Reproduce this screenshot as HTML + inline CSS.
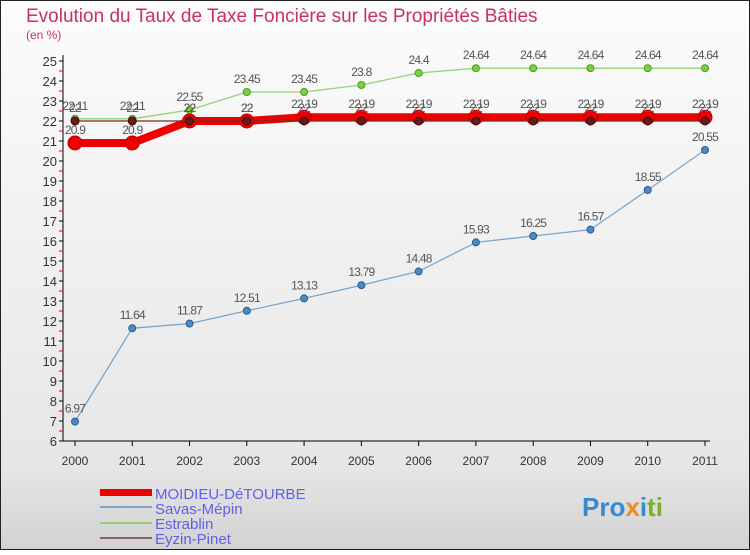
<!DOCTYPE html>
<html><head><meta charset="utf-8"><style>
body{margin:0;width:750px;height:550px;overflow:hidden;font-family:"Liberation Sans",sans-serif}
</style></head><body>
<svg width="750" height="550" xmlns="http://www.w3.org/2000/svg" id="chart">
<defs><linearGradient id="bg" x1="0" y1="0" x2="0" y2="1"><stop offset="0" stop-color="#fcfcfc"/><stop offset="0.85" stop-color="#e6e6e6"/><stop offset="1" stop-color="#d2d2d2"/></linearGradient></defs>
<rect x="0.5" y="0.5" width="749" height="549" fill="url(#bg)" stroke="#222"/>
<text x="26" y="22" font-size="19" fill="#c8325e">Evolution du Taux de Taxe Foncière sur les Propriétés Bâties</text>
<text x="26" y="39" font-size="12" fill="#c8325e">(en %)</text>
<g id="axes"></g><g id="series"></g>
<g font-size="15" fill="#6060e8">
<rect x="100" y="489" width="52" height="7" fill="#e00"/>
<text x="155" y="499">MOIDIEU-DéTOURBE</text>
<rect x="100" y="506" width="52" height="2" fill="#7aa6cc"/>
<text x="155" y="514">Savas-Mépin</text>
<rect x="100" y="522" width="52" height="2" fill="#99d077"/>
<text x="155" y="529">Estrablin</text>
<rect x="100" y="537" width="52" height="2" fill="#8a6262"/>
<text x="155" y="544">Eyzin-Pinet</text>
</g>
<text x="582" y="516" font-size="26" font-weight="bold"><tspan fill="#3a8ad0">Pro</tspan><tspan fill="#f08a20">x</tspan><tspan fill="#3a8ad0">i</tspan><tspan fill="#7ab030">ti</tspan></text>
</svg>
<script>
const years=[2000,2001,2002,2003,2004,2005,2006,2007,2008,2009,2010,2011];
const yTicks=[6,7,8,9,10,11,12,13,14,15,16,17,18,19,20,21,22,23,24,25];
const moidieu=[20.9,20.9,22,22,22.19,22.19,22.19,22.19,22.19,22.19,22.19,22.19];
const savas=[6.97,11.64,11.87,12.51,13.13,13.79,14.48,15.93,16.25,16.57,18.55,20.55];
const estrablin=[22.11,22.11,22.55,23.45,23.45,23.8,24.4,24.64,24.64,24.64,24.64,24.64];
const eyzin=[22,22,22,22,22,22,22,22,22,22,22,22];
const NS="http://www.w3.org/2000/svg";
const x=i=>75+i*(630/11);
const y=v=>61+(25-v)*20;
function mk(t,a,p){const e=document.createElementNS(NS,t);for(const k in a)e.setAttribute(k,a[k]);p.appendChild(e);return e;}
const ax=document.getElementById('axes'),sg=document.getElementById('series');
const yl=mk('line',{x1:63,y1:55,x2:63,y2:441,stroke:'#000'},ax);


const xl=mk('line',{x1:63,y1:441,x2:710,y2:441,stroke:'#000'},ax);


yTicks.forEach(v=>{
 mk('line',{x1:59,y1:y(v),x2:63,y2:y(v),stroke:'#000'},ax);
 if(v<25)mk('line',{x1:59,y1:y(v+0.5),x2:63,y2:y(v+0.5),stroke:'#e00'},ax);
 const t=mk('text',{x:57,y:y(v)+5,'text-anchor':'end','font-size':13,fill:'#333'},ax);t.textContent=v;
 
 
});
years.forEach((yr,i)=>{
 mk('line',{x1:x(i),y1:441,x2:x(i),y2:446,stroke:'#000'},ax);
 const t=mk('text',{x:x(i),y:465,'text-anchor':'middle','font-size':12,fill:'#333'},ax);t.textContent=yr;
 
 
});
function series(data,name,col,w,r,dot,dotStroke,labelDy){
 const g=mk('g',{},sg);
 
 
 mk('polyline',{points:data.map((v,i)=>x(i)+','+y(v)).join(' '),fill:'none',stroke:col,'stroke-width':w,'stroke-linejoin':'round'},g);
 data.forEach((v,i)=>{
  const c=mk('circle',{cx:x(i),cy:y(v),r:r,fill:dot,stroke:dotStroke,'stroke-width':1},g);
  
  
  const t=mk('text',{x:x(i),y:y(v)+labelDy,'text-anchor':'middle','font-size':12,fill:'#555','letter-spacing':'-0.8'},g);
  t.textContent=v;
  
  
 });
}
series(savas,'savas','#7aa6cc',1.3,3.5,'#4a8ac8','#2a5a90',-9);
series(estrablin,'estrablin','#99d077',1.3,3.5,'#7cd040','#4a9a20',-9);
series(moidieu,'moidieu','#e00',8,7,'#e00','#b00',-9);
series(eyzin,'eyzin','#7a2a2a',1.3,4,'#6a1a1a','#3a0a0a',-9);
</script>
</body></html>
